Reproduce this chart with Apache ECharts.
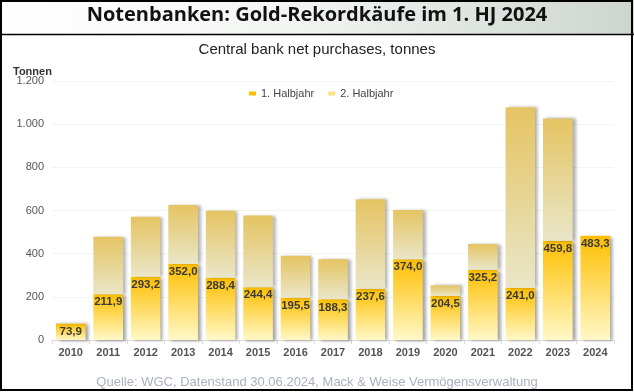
<!DOCTYPE html>
<html><head><meta charset="utf-8">
<script src="https://cdn.jsdelivr.net/npm/echarts@6/dist/echarts.min.js"></script>
<style>html,body{margin:0;padding:0;background:#fff}#c{width:634px;height:392px}</style>
</head><body><div id="c"></div>
<script>
const years = ['2010','2011','2012','2013','2014','2015','2016','2017','2018','2019','2020','2021','2022','2023','2024'];
const firstHalf = [73.9, 211.9, 293.2, 352.0, 288.4, 244.4, 195.5, 188.3, 237.6, 374.0, 204.5, 325.2, 241.0, 459.8, 483.3];
const secondHalf = [5, 267, 278, 273, 311, 332, 195, 186, 414, 228, 49, 120, 837, 567, null];
const yTicks = [0, 200, 400, 600, 800, 1000, 1200];
const seriesNames = ['1. Halbjahr', '2. Halbjahr'];

const chart = echarts.init(document.getElementById('c'), null, {renderer:'canvas'});
const grad = (a,b)=>new echarts.graphic.LinearGradient(0,0,0,1,[{offset:0,color:a},{offset:1,color:b}]);
chart.setOption({
  animation:false,
  graphic:[
    {type:'rect', shape:{x:0,y:0,width:634,height:34}, style:{fill:new echarts.graphic.LinearGradient(0,0,1,0,[{offset:0,color:'#ffffff'},{offset:0.45,color:'#f3f5f3'},{offset:1,color:'#cdd6ce'}])}, z:0},
    {type:'line', shape:{x1:0,y1:34.5,x2:634,y2:34.5}, style:{stroke:'#000',lineWidth:1.5}, z:5},
    {type:'rect', shape:{x:1,y:1,width:631,height:389}, style:{fill:'none',stroke:'#000',lineWidth:2}, z:5},
    {type:'text', left:'center', top:5, style:{text:'Notenbanken: Gold-Rekordkäufe im 1. HJ 2024', font:'bold 20px "Open Sans", sans-serif', fill:'#111'}, z:6},
    {type:'text', left:'center', top:42, style:{text:'Central bank net purchases, tonnes', font:'15px "Liberation Sans", sans-serif', fill:'#222'}, z:6},
    {type:'text', x:13, y:66, style:{text:'Tonnen', font:'bold 11px "Liberation Sans", sans-serif', fill:'#333'}, z:6},
    {type:'text', left:'center', top:376, style:{text:'Quelle: WGC, Datenstand 30.06.2024, Mack & Weise Vermögensverwaltung', font:'13px "Liberation Sans", sans-serif', fill:'#a8b0c2'}, z:6}
  ],
  legend:{
    data:[{name:seriesNames[0], itemStyle:{color:'#ffc000'}},{name:seriesNames[1], itemStyle:{color:'#ffe27a'}}],
    left:244, top:83, itemWidth:7, itemHeight:4, itemGap:14, icon:'rect',
    textStyle:{fontSize:11, color:'#444', fontFamily:'Liberation Sans'}
  },
  grid:{left:52, right:20, top:81, bottom:52},
  xAxis:{
    type:'category', data:years,
    axisLine:{lineStyle:{color:'#dcdcdc'}},
    axisTick:{show:true, length:4, lineStyle:{color:'#dcdcdc'}},
    axisLabel:{color:'#555', fontSize:11, fontWeight:'bold', fontFamily:'Liberation Sans', margin:7}
  },
  yAxis:{
    type:'value', min:yTicks[0], max:yTicks[yTicks.length-1], interval:200,
    axisLine:{show:false}, axisTick:{show:false},
    splitLine:{lineStyle:{color:'#f1f4f1'}},
    axisLabel:{color:'#555', fontSize:11, fontFamily:'Liberation Sans', margin:8,
      formatter:v=>String(v).replace(/\B(?=(\d{3})+(?!\d))/g,'.')}
  },
  series:[
    {name:seriesNames[0], type:'bar', stack:'t', data:firstHalf, barWidth:'79%',
     itemStyle:{color:grad('#ffbf00','#fff8c8'), shadowColor:'rgba(0,0,0,0.35)', shadowBlur:3, shadowOffsetX:3, shadowOffsetY:1},
     label:{show:true, position:'insideTop', distance:2, color:'#3a3a3a', fontSize:11.5, fontWeight:'bold', fontFamily:'Liberation Sans',
       formatter:p=>p.value.toFixed(1).replace('.',',')}
    },
    {name:seriesNames[1], type:'bar', stack:'t', data:secondHalf, barWidth:'79%',
     itemStyle:{color:grad('#e5c462','#e9e6c8'), shadowColor:'rgba(0,0,0,0.3)', shadowBlur:3, shadowOffsetX:3, shadowOffsetY:0}
    }
  ]
});
</script></body></html>
